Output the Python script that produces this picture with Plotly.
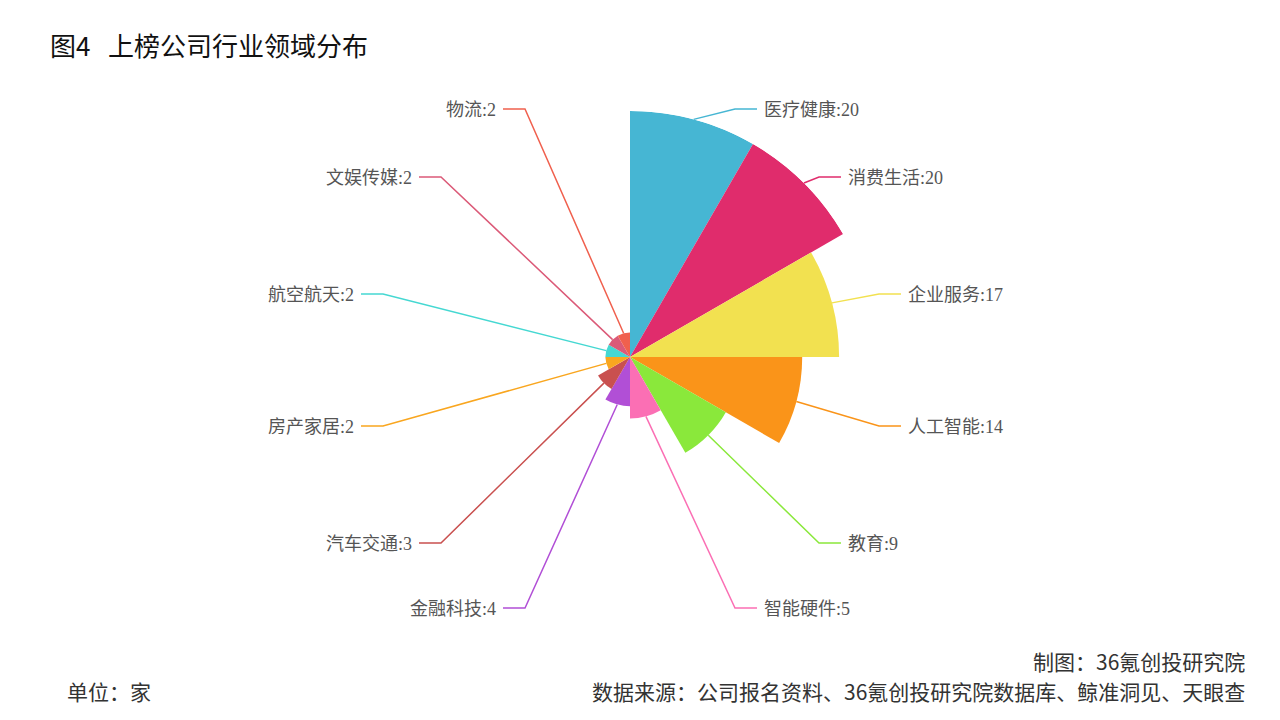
import math
import plotly.graph_objects as go

categories = ["医疗健康", "消费生活", "企业服务", "人工智能", "教育", "智能硬件",
              "金融科技", "汽车交通", "房产家居", "航空航天", "文娱传媒", "物流"]
values = [20, 20, 17, 14, 9, 5, 4, 3, 2, 2, 2, 2]
colors = ["#46b6d3", "#e02c6c", "#f2e150", "#fa9419", "#8ae83b", "#fb6fb4",
          "#b14fd6", "#c9504f", "#f9a61f", "#45d8d2", "#db5a78", "#f0604e"]

# label anchor positions in pixels (layout only)
label_x = [762, 846, 906, 906, 846, 762, 498, 414, 356, 356, 414, 498]
label_y = [110, 178, 295, 427, 544, 609, 609, 544, 427, 295, 178, 110]

W, H = 1280, 720
OFF = 8  # page body margin
CX, CY, R = 630, 357, 246
vmax = max(values)
n = len(values)
step = 360 / n
thetas = [step / 2 + step * i for i in range(n)]

fig = go.Figure()
fig.add_trace(go.Barpolar(
    r=values, theta=thetas, width=[step] * n,
    marker=dict(color=colors, line=dict(width=0)),
    hoverinfo="skip", showlegend=False,
))

def px(x, y):
    return (x - OFF) / W, 1 - (y - OFF) / H

shapes = []
annotations = []
for i, (cat, v, col) in enumerate(zip(categories, values, colors)):
    ang = math.radians(thetas[i])
    rr = v / vmax * R
    ax_ = CX + rr * math.sin(ang)
    ay_ = CY - rr * math.cos(ang)
    right = label_x[i] > CX
    cx_ = label_x[i] - 5 if right else label_x[i] + 5
    bx_ = cx_ - 22 if right else cx_ + 22
    by_ = label_y[i] - 1
    p = [px(ax_, ay_), px(bx_, by_), px(cx_, by_)]
    path = "M {:.5f},{:.5f} L {:.5f},{:.5f} L {:.5f},{:.5f}".format(
        p[0][0], p[0][1], p[1][0], p[1][1], p[2][0], p[2][1])
    shapes.append(dict(type="path", xref="paper", yref="paper", path=path,
                       line=dict(color=col, width=1.5)))
    lx, ly = px(label_x[i], label_y[i])
    annotations.append(dict(
        x=lx, y=ly, xref="paper", yref="paper",
        xanchor="left" if right else "right", yanchor="middle",
        text=f"{cat}:{v}", showarrow=False,
        font=dict(family="Liberation Serif, Noto Sans CJK SC", size=18, color="#555555")))

def ann(x, y, text, anchor, size, color):
    ax, ay = px(x, y)
    return dict(x=ax, y=ay, xref="paper", yref="paper", xanchor=anchor, yanchor="middle",
                text=text, showarrow=False,
                font=dict(family="Noto Sans CJK SC", size=size, color=color))

annotations += [
    ann(48, 44, "图4&nbsp;&nbsp;&nbsp;上榜公司行业领域分布", "left", 26, "#111111"),
    ann(1247, 661, "制图：36氪创投研究院", "right", 21, "#333333"),
    ann(1247, 691, "数据来源：公司报名资料、36氪创投研究院数据库、鲸准洞见、天眼查", "right", 21, "#333333"),
    ann(65, 691, "单位：家", "left", 21, "#333333"),
]

fig.update_layout(
    width=W, height=H,
    margin=dict(l=0, r=0, t=0, b=0),
    paper_bgcolor="white", plot_bgcolor="white",
    polar=dict(
        domain=dict(x=[(CX - OFF - R) / W, (CX - OFF + R) / W],
                    y=[1 - (CY - OFF + R) / H, 1 - (CY - OFF - R) / H]),
        bgcolor="rgba(0,0,0,0)",
        bargap=0,
        radialaxis=dict(range=[0, vmax], visible=False, showgrid=False, showline=False, showticklabels=False),
        angularaxis=dict(direction="clockwise", rotation=90, visible=False, showgrid=False,
                         showline=False, showticklabels=False, ticks=""),
    ),
    shapes=shapes,
    annotations=annotations,
)

fig.write_html("out.html")
